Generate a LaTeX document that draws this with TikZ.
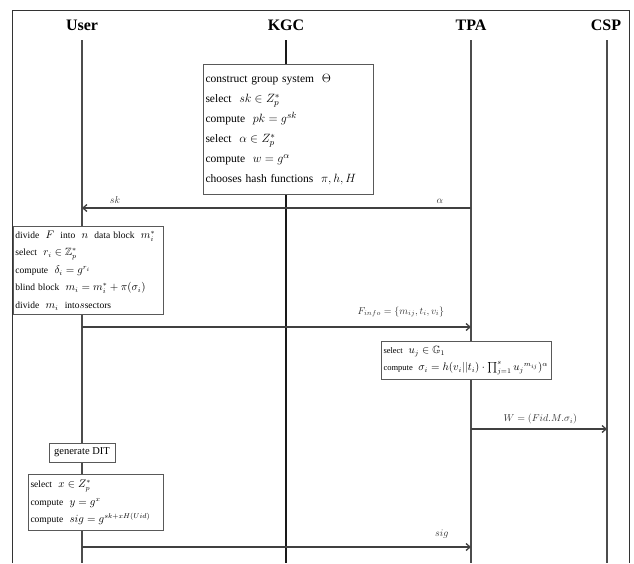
\documentclass[tikz,border=0pt]{standalone}
\usepackage{amsmath,amssymb}
\usepackage{fontspec}
\setmainfont{Liberation Serif}
\usetikzlibrary{arrows.meta}
% math a bit larger than the text, as in the boxes of the figure
\DeclareMathSizes{8.5}{10.5}{7.5}{6}
\DeclareMathSizes{9.5}{10.5}{7.5}{6}
\DeclareMathSizes{11.5}{13}{9.5}{7.5}
\tikzset{
  actor/.style={font=\fontsize{16}{18}\selectfont\bfseries},
  life/.style={line width=1.2pt, black!70},
  stepbox/.style={draw=black!65, line width=1pt, fill=white, align=left, inner sep=2pt, anchor=north west},
  msg/.style={line width=1.3pt, black!75, -{Straight Barb[length=4pt,width=7pt]}},
  lbl/.style={font=\fontsize{10}{12}\selectfont, text=black!80},
}
\begin{document}
\begin{tikzpicture}[x=1pt,y=-1pt]
\useasboundingbox (0,0) rectangle (634,563);
% frame
\draw[line width=1pt, black!80] (12,563) -- (12,10) -- (629,10) -- (629,563);

% actors
\node[actor] (user) at (82,25) {User};
\node[actor] (kgc) at (286,25) {KGC};
\node[actor] (tpa) at (471,25) {TPA};
\node[actor] (csp) at (606,25) {CSP};

% lifelines
\coordinate (userTop) at (82,40);   \coordinate (userEnd) at (82,563);
\coordinate (kgcTop) at (286,40);   \coordinate (kgcEnd) at (286,563);
\coordinate (tpaTop) at (471,40);   \coordinate (tpaEnd) at (471,563);
\coordinate (cspTop) at (607,40);   \coordinate (cspEnd) at (607,563);
\draw[life] (userTop) -- (userEnd);
\draw[life, line width=1.8pt, black!90] (kgcTop) -- (kgcEnd);
\draw[life] (tpaTop) -- (tpaEnd);
\draw[life] (cspTop) -- (cspEnd);

% KGC setup
\node[stepbox, text width=166pt, minimum height=130pt, font=\fontsize{11.5}{20}\selectfont] (setup) at (203,64) {%
construct group system~~$\Theta$\\
select~~$sk\in Z_p^*$\\
compute~~$pk=g^{sk}$\\
select~~$\alpha\in Z_p^*$\\
compute~~$w=g^{\alpha}$\\
chooses hash functions~~$\pi,h,H$};

% key distribution
\coordinate (skU) at (82,208);
\coordinate (skT) at (471,208);
\draw[msg] (skT) -- node[lbl, above=1pt, pos=0.915] {$sk$} node[lbl, above=1pt, pos=0.08] {$\alpha$} (skU);

% user blinding
\node[stepbox, text width=146pt, minimum height=88pt, font=\fontsize{9.5}{17.5}\selectfont] (blind) at (13,226) {%
divide~~$F$~~into~~$n$~~data block~~$m_i^*$\\
select~~$r_i\in\mathbb{Z}_p^*$\\
compute~~$\delta_i=g^{r_i}$\\
blind block~~$m_i=m_i^*+\pi(\sigma_i)$\\
divide~~$m_i$~~into$s$sectors};

\coordinate (infoU) at (82,327);
\coordinate (infoT) at (471,327);
\draw[msg] (infoU) -- node[lbl, above=6pt, pos=0.82] {$F_{info}=\{m_{ij},t_i,v_i\}$} (infoT);

% TPA signing
\node[stepbox, text width=166pt, minimum height=38pt, font=\fontsize{8.5}{17}\selectfont] (sign) at (381,341) {%
select~~$u_j\in\mathbb{G}_1$\\
compute~~$\sigma_i=h(v_i||t_i)\cdot\prod_{j=1}^{s}u_j{}^{m_{ij}})^{\alpha}$};

\coordinate (wT) at (471,429);
\coordinate (wC) at (607,429);
\draw[msg] (wT) -- node[lbl, above=1pt, pos=0.51] {$W=(Fid.M.\sigma_i)$} (wC);

% DIT
\node[stepbox, anchor=center, minimum width=66pt, minimum height=19pt, inner sep=1pt, font=\fontsize{10.5}{12}\selectfont] (dit) at (82,452.5) {generate DIT};

\node[stepbox, text width=131pt, minimum height=56pt, font=\fontsize{9.5}{17.5}\selectfont] (tag) at (28,474) {%
select~~$x\in Z_p^*$\\
compute~~$y=g^x$\\
compute~~$sig=g^{sk+xH(Uid)}$};

\coordinate (sigU) at (82,547);
\coordinate (sigT) at (471,547);
\draw[msg] (sigU) -- node[lbl, above=5pt, pos=0.925] {$sig$} (sigT);
\end{tikzpicture}
\end{document}
